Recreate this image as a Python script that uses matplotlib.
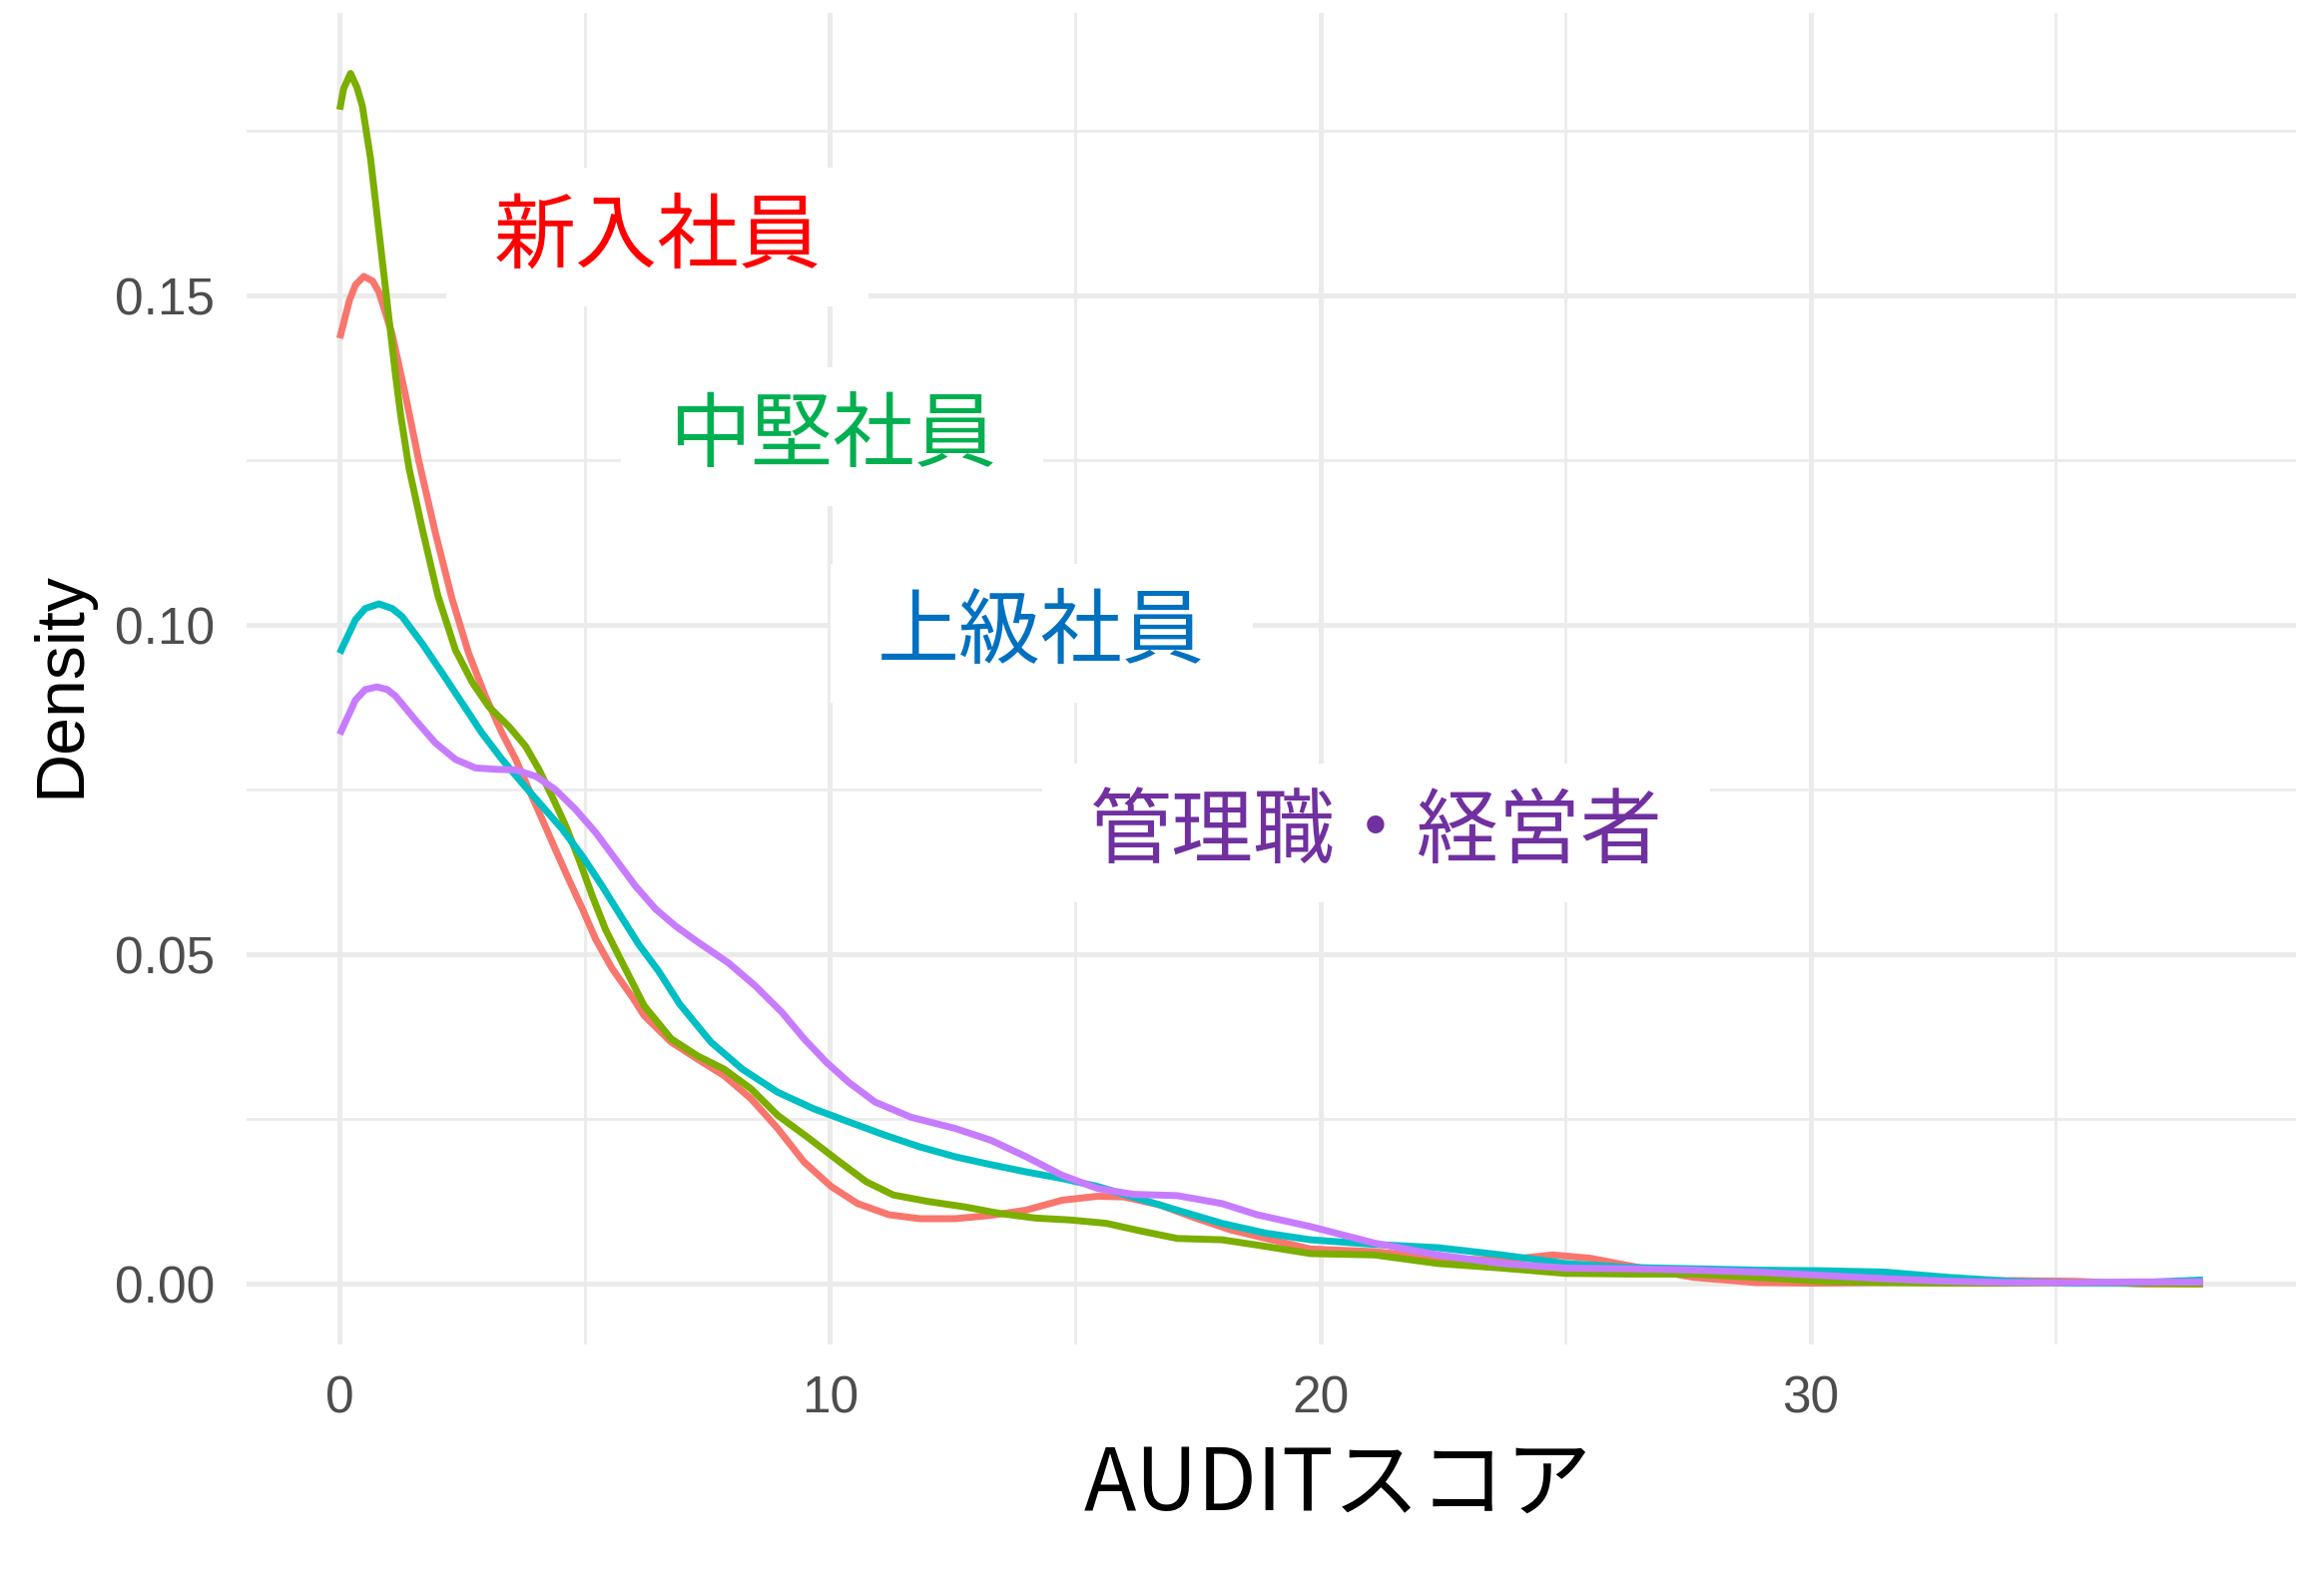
import matplotlib
matplotlib.use('Agg')
import matplotlib.pyplot as plt
from matplotlib.path import Path

plt.rcParams['font.family'] = ['Noto Sans CJK JP', 'DejaVu Sans']

# groups (plot order = ggplot factor order)
groups = ['新入社員', '中堅社員', '上級社員', '管理職・経営者']
line_colors = ['#F8766D', '#7CAE00', '#00BFC4', '#C77CFF']
label_colors = ['#FF0000', '#00B050', '#0070C0', '#7030A0']

# density curves (x = AUDIT score, y = density)
score_new = [0, 0.2, 0.32, 0.49, 0.67, 0.80, 1.07, 1.34, 1.61, 1.95, 2.29, 2.63, 2.97, 3.31,
             3.59, 3.86, 4.13, 4.40, 4.67, 4.95, 5.22, 5.56, 5.97, 6.21, 6.76, 7.30, 7.84,
             8.39, 8.93, 9.47, 10.02, 10.56, 11.20, 11.83, 12.55, 13.28, 14.0, 14.73,
             15.45, 16.0, 16.72, 17.45, 18.17, 18.89, 19.8, 21.1, 22.4, 23.7, 24.74,
             25.5, 26.56, 27.6, 28.9, 30.2, 31.5, 32.8, 34.1, 35.4, 36.7, 38.0]
dens_new = [0.1435, 0.1493, 0.1516, 0.1529, 0.1522, 0.1505, 0.1441, 0.1349, 0.1250, 0.1140,
            0.1040, 0.0957, 0.0892, 0.0836, 0.0796, 0.0750, 0.0705, 0.0659, 0.0614, 0.0569,
            0.0523, 0.0478, 0.0435, 0.0407, 0.0367, 0.0341, 0.0316, 0.0281, 0.0236, 0.0185,
            0.0148, 0.0122, 0.0105, 0.0099, 0.0099, 0.0104, 0.0112, 0.0127, 0.0133, 0.0132,
            0.0120, 0.0100, 0.0082, 0.0069, 0.0053, 0.0049, 0.0039, 0.0036, 0.0044, 0.0039,
            0.0024, 0.0010, 0.0002, 0.0001, 0.0002, 0.0004, 0.0005, 0.0004, 0.0000, 0.0000]

score_mid = [0, 0.08, 0.22, 0.35, 0.46, 0.63, 0.80, 0.97, 1.14, 1.24, 1.41, 1.68, 2.0, 2.36,
             2.71, 3.04, 3.45, 3.79, 4.06, 4.33, 4.61, 4.88, 5.15, 5.42, 5.69, 6.21, 6.76,
             7.30, 7.84, 8.39, 8.93, 9.57, 10.2, 10.74, 11.29, 12.01, 12.74, 13.46,
             14.18, 14.91, 15.63, 16.36, 17.08, 17.99, 18.71, 19.8, 21.1, 22.4, 23.7,
             25.0, 26.3, 27.6, 28.9, 30.2, 31.5, 32.8, 34.1, 35.4, 36.7, 38.0]
dens_mid = [0.1782, 0.1814, 0.1837, 0.1816, 0.1788, 0.1707, 0.1597, 0.1487, 0.1378, 0.1320,
            0.1239, 0.1147, 0.1045, 0.0962, 0.0912, 0.0876, 0.0846, 0.0816, 0.0781, 0.0740,
            0.0695, 0.0644, 0.0589, 0.0538, 0.0498, 0.0422, 0.0372, 0.0346, 0.0326, 0.0296,
            0.0256, 0.0221, 0.0185, 0.0155, 0.0135, 0.0125, 0.0117, 0.0107, 0.0100, 0.0097,
            0.0092, 0.0080, 0.0069, 0.0067, 0.0059, 0.0046, 0.0044, 0.0031, 0.0024, 0.0016,
            0.0015, 0.0015, 0.0010, 0.0004, 0.0002, 0.0001, 0.0001, 0.0002, 0.0001, 0.0000]

score_senior = [0, 0.32, 0.52, 0.80, 1.07, 1.27, 1.68, 2.09, 2.50, 2.90, 3.31, 3.72, 4.13,
                4.54, 4.95, 5.35, 5.76, 6.10, 6.50, 6.93, 7.57, 8.21, 8.93, 9.66, 10.38,
                11.11, 11.83, 12.55, 13.28, 14.0, 14.73, 15.45, 16.18, 17.08, 17.99, 18.89,
                19.8, 21.1, 22.4, 23.7, 25.0, 26.3, 27.6, 28.9, 30.2, 31.5, 32.8, 34.1,
                35.4, 36.7, 38.0]
dens_senior = [0.0957, 0.1008, 0.1025, 0.1032, 0.1025, 0.1013, 0.0972, 0.0927, 0.0881,
               0.0836, 0.0796, 0.0760, 0.0725, 0.0690, 0.0649, 0.0604, 0.0555, 0.0515,
               0.0475, 0.0425, 0.0367, 0.0326, 0.0291, 0.0266, 0.0246, 0.0226, 0.0208,
               0.0193, 0.0181, 0.0170, 0.0160, 0.0148, 0.0132, 0.0112, 0.0092, 0.0077,
               0.0067, 0.0060, 0.0055, 0.0044, 0.0031, 0.0025, 0.0023, 0.0021, 0.0020,
               0.0018, 0.0010, 0.0004, 0.0001, 0.0002, 0.0006]

score_mgr = [0, 0.32, 0.52, 0.76, 0.97, 1.14, 1.54, 1.95, 2.36, 2.77, 3.18, 3.59, 4.01,
             4.40, 4.81, 5.22, 5.63, 6.03, 6.44, 6.85, 7.28, 7.93, 8.48, 9.02, 9.47, 9.93,
             10.38, 10.92, 11.65, 12.55, 13.28, 14.0, 14.73, 15.45, 16.18, 17.08, 17.99,
             18.71, 19.8, 21.1, 22.4, 23.7, 25.0, 26.3, 27.6, 28.9, 30.2, 31.5, 32.8,
             34.1, 35.4, 36.7, 38.0]
dens_mgr = [0.0834, 0.0886, 0.0902, 0.0906, 0.0902, 0.0892, 0.0856, 0.0821, 0.0796, 0.0783,
            0.0781, 0.0780, 0.0770, 0.0750, 0.0720, 0.0685, 0.0644, 0.0604, 0.0569, 0.0543,
            0.0520, 0.0487, 0.0452, 0.0412, 0.0372, 0.0336, 0.0306, 0.0276, 0.0253, 0.0236,
            0.0218, 0.0193, 0.0165, 0.0145, 0.0136, 0.0134, 0.0122, 0.0105, 0.0087, 0.0062,
            0.0044, 0.0031, 0.0024, 0.0023, 0.0021, 0.0018, 0.0013, 0.0008, 0.0004, 0.0002,
            0.0002, 0.0003, 0.0003]

scores = [score_new, score_mid, score_senior, score_mgr]
densities = [dens_new, dens_mid, dens_senior, dens_mgr]

# where the group names sit (data coords)
label_x = [6.48, 10.05, 14.31, 21.14]
label_y = [0.1588, 0.1286, 0.0987, 0.0685]

x_major = [0, 10, 20, 30]
x_minor = [5, 15, 25, 35]
y_major = [0, 0.05, 0.10, 0.15]
y_minor = [0.025, 0.075, 0.125, 0.175]
y_ticklabels = ['0.00', '0.05', '0.10', '0.15']


def label_box(x0, y0, width, height, mutation_size):
    # white box, wider on the sides than above/below (like a slide text box)
    px = 0.58 * mutation_size
    py = 0.33 * mutation_size
    left, bottom = x0 - px, y0 - py
    right, top = x0 + width + px, y0 + height + py
    return Path([(left, bottom), (right, bottom), (right, top), (left, top), (left, bottom)],
                closed=True)


fig = plt.figure(figsize=(23.28, 15.95), dpi=100)
ax = fig.add_axes([0.1061, 0.1555, 0.8819, 0.8364])

for xs, ys, col in zip(scores, densities, line_colors):
    ax.plot(xs, ys, color=col, lw=5.0, solid_capstyle='butt', solid_joinstyle='round', zorder=3)

for name, lx, ly, col in zip(groups, label_x, label_y, label_colors):
    ax.text(lx, ly, name, color=col, fontsize=59, ha='center', va='center', zorder=5,
            bbox=dict(boxstyle=label_box, fc='white', ec='none'))

# axis ranges with ggplot-style 5% expansion
x_lo, x_hi = min(min(s) for s in scores), max(max(s) for s in scores)
y_hi = max(max(d) for d in densities)
x_pad = 0.05 * (x_hi - x_lo)
ax.set_xlim(x_lo - x_pad, x_hi + x_pad)
ax.set_ylim(-0.05 * y_hi, 1.05 * y_hi)

ax.set_xticks(x_major)
ax.set_xticks(x_minor, minor=True)
ax.set_yticks(y_major)
ax.set_yticks(y_minor, minor=True)
ax.set_xticklabels([str(v) for v in x_major], fontfamily='Liberation Sans')
ax.set_yticklabels(y_ticklabels, fontfamily='Liberation Sans')
ax.tick_params(which='both', length=0, labelsize=37, labelcolor='#4D4D4D')
ax.tick_params(axis='x', pad=22)
ax.tick_params(axis='y', pad=23)

ax.grid(which='major', color='#EBEBEB', lw=3.6)
ax.grid(which='minor', color='#EBEBEB', lw=2.0)
ax.set_axisbelow(True)
for sp in ax.spines.values():
    sp.set_visible(False)

fig.text(0.0265, 0.570, 'Density', rotation=90, fontsize=49, ha='center', va='center',
         fontfamily='Liberation Sans', color='black')
fig.text(0.5756, 0.0514, 'AUDITスコア', fontsize=62, ha='center', va='baseline', color='black')

fig.savefig('out.png', dpi=100, facecolor='white')
